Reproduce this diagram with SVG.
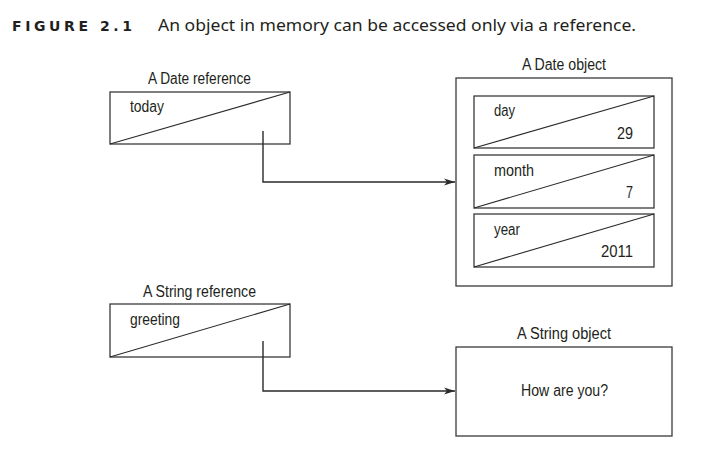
<svg xmlns="http://www.w3.org/2000/svg" width="717" height="450" viewBox="0 0 717 450">
<style>
.box{fill:none;stroke:#3a3a3a;stroke-width:1.3}
.diag{stroke:#2a2a2a;stroke-width:1.1}
.conn{fill:none;stroke:#2a2a2a;stroke-width:1.4}
.lbl{font-family:"Liberation Sans",Arial,sans-serif;font-size:16px;fill:#231f20}
.hdr{font-family:"DejaVu Sans","Liberation Sans",sans-serif;font-size:14px;font-weight:bold;fill:#231f20}
.cap{font-family:"Noto Sans","Open Sans",sans-serif;font-size:16.5px;fill:#231f20}
</style>
<defs>
<marker id="arr" markerWidth="12" markerHeight="8" refX="11" refY="4" orient="auto" markerUnits="userSpaceOnUse">
<path d="M0,0.5 L11,4 L0,7.5 L3,4 Z" fill="#2a2a2a"/>
</marker>
</defs>
<rect width="717" height="450" fill="#fff"/>
<text class="hdr" x="12" y="31" textLength="120" lengthAdjust="spacing">FIGURE 2.1</text>
<text class="cap" x="158" y="31" textLength="478" lengthAdjust="spacingAndGlyphs">An object in memory can be accessed only via a reference.</text>

<g id="date-ref">
<text class="lbl" x="148" y="84" textLength="103" lengthAdjust="spacingAndGlyphs">A Date reference</text>
<rect class="box" x="110" y="92" width="180" height="52"/>
<line class="diag" x1="110" y1="144" x2="290" y2="92"/>
<text class="lbl" x="130" y="112" textLength="34" lengthAdjust="spacingAndGlyphs">today</text>
</g>

<g id="date-obj">
<text class="lbl" x="522" y="70" textLength="84" lengthAdjust="spacingAndGlyphs">A Date object</text>
<rect class="box" x="456" y="78" width="216" height="208"/>
<g id="day">
<rect class="box" x="474" y="96" width="180" height="52"/>
<line class="diag" x1="474" y1="148" x2="654" y2="96"/>
<text class="lbl" x="494" y="116" textLength="21" lengthAdjust="spacingAndGlyphs">day</text>
<text class="lbl" x="617" y="139" textLength="16" lengthAdjust="spacingAndGlyphs">29</text>
</g>
<g id="month">
<rect class="box" x="474" y="155" width="180" height="53"/>
<line class="diag" x1="474" y1="208" x2="654" y2="155"/>
<text class="lbl" x="494" y="176" textLength="40" lengthAdjust="spacingAndGlyphs">month</text>
<text class="lbl" x="626" y="198" textLength="7" lengthAdjust="spacingAndGlyphs">7</text>
</g>
<g id="year">
<rect class="box" x="474" y="214" width="180" height="53"/>
<line class="diag" x1="474" y1="267" x2="654" y2="214"/>
<text class="lbl" x="494" y="235" textLength="26" lengthAdjust="spacingAndGlyphs">year</text>
<text class="lbl" x="601" y="257" textLength="32" lengthAdjust="spacingAndGlyphs">2011</text>
</g>
</g>

<g id="string-ref">
<text class="lbl" x="143" y="297" textLength="113" lengthAdjust="spacingAndGlyphs">A String reference</text>
<rect class="box" x="110" y="304" width="180" height="53"/>
<line class="diag" x1="110" y1="357" x2="290" y2="304"/>
<text class="lbl" x="130" y="325" textLength="50" lengthAdjust="spacingAndGlyphs">greeting</text>
</g>

<g id="string-obj">
<text class="lbl" x="517" y="339" textLength="94" lengthAdjust="spacingAndGlyphs">A String object</text>
<rect class="box" x="456" y="347" width="216" height="89"/>
<text class="lbl" x="521" y="396" textLength="87" lengthAdjust="spacingAndGlyphs">How are you?</text>
</g>

<g id="connectors">
<path class="conn" d="M263,131 V182 H455" marker-end="url(#arr)"/>
<path class="conn" d="M263,341 V391 H455" marker-end="url(#arr)"/>
</g>
</svg>
